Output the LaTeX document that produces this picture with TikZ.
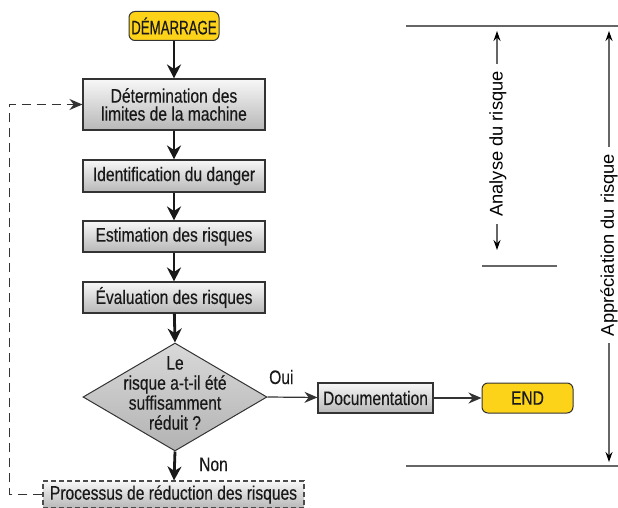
\documentclass[tikz,border=0pt]{standalone}
\usepackage{fontspec}
\setmainfont{Liberation Sans}[FakeStretch=0.80,FakeBold=0.3]
\newfontfamily\capsfont{Liberation Sans}[FakeStretch=0.68,FakeBold=0.3]
\newfontfamily\rotfont{Liberation Sans}
\usetikzlibrary{shapes.geometric,arrows.meta}
\definecolor{ylw}{HTML}{FDD319}
\definecolor{edge}{HTML}{333333}
\tikzset{
  txt/.style={font=\fontsize{19.5}{18}\selectfont, text=black!90, align=center, inner sep=0pt},
  rot/.style={font=\rotfont\fontsize{18.3}{18}\selectfont, text=black, rotate=90, inner sep=0pt, minimum height=14pt},
  box/.style={txt, draw=edge, line width=1.1pt, top color=black!3, bottom color=black!28, minimum width=182pt},
  term/.style={txt, draw=edge, line width=1pt, fill=ylw, rounded corners=6pt},
  flow/.style={line width=2.8pt, black!90, -{Stealth[length=14pt,width=14pt]}},
  thin/.style={line width=1.2pt, black!80, -{Stealth[length=13pt,width=11pt]}},
  dim/.style={line width=1.2pt, black!60, -{Stealth[length=10pt,width=7pt,color=black]}},
  rule/.style={line width=1.3pt, black!60},
}
\begin{document}
\begin{tikzpicture}[x=1pt,y=-1pt]
\useasboundingbox (0,0) rectangle (618,508);
% nodes
\node[term, minimum width=90pt, minimum height=29pt, font=\capsfont\fontsize{19.5}{18}\selectfont] (start) at (174,26) {DÉMARRAGE};
\node[box, minimum height=51pt] (b1) at (174,104.5) {Détermination des\\limites de la machine};
\node[box, minimum height=32pt] (b2) at (174,176) {Identification du danger};
\node[box, minimum height=31pt] (b3) at (174,236.5) {Estimation des risques};
\node[box, minimum height=31pt] (b4) at (174,297.5) {Évaluation des risques};
\node[draw=edge, line width=1pt, diamond, top color=black!15, bottom color=black!30, minimum width=184pt, minimum height=108pt, inner sep=0pt] (dec) at (175,397) {};
\node[txt, font=\fontsize{19.5}{20}\selectfont] (dect) at (175,393) {Le\\risque a-t-il été\\suffisamment\\réduit ?};
\node[box, draw=black!70, dashed, dash pattern=on 5pt off 3pt, minimum width=261pt, minimum height=27pt] (red) at (173.5,494.5) {Processus de réduction des risques};
\node[box, minimum width=115pt, minimum height=30pt] (doc) at (375.5,398) {Documentation};
\node[term, minimum width=91pt, minimum height=30pt] (end) at (527.5,398) {END};
\node[txt, anchor=base west] (oui) at (269,384) {Oui};
\node[txt, anchor=base west] (non) at (199,471) {Non};
% main flow
\draw[flow] (start) -- (b1);
\draw[flow] (b1) -- (b2);
\draw[flow] (b2) -- (b3);
\draw[flow] (b3) -- (b4);
\draw[flow] (b4) -- (dec.north);
\draw[flow] (dec.south) -- (red);
\draw[thin] (dec.east) -- (doc);
\draw[thin] (doc) -- (end);
% feedback
\coordinate (fb1) at (9.5,494.5);
\coordinate (fb2) at (9.5,104.5);
\draw[line width=1.4pt, black!80, dash pattern=on 9pt off 6pt, -{Stealth[length=13pt,width=11pt]}] (red.west) -- (fb1) -- (fb2) -- (b1.west);
% right side scale
\coordinate (t1) at (406,26); \coordinate (t2) at (618,26);
\coordinate (m1) at (482,266); \coordinate (m2) at (557,266);
\coordinate (u1) at (406,466); \coordinate (u2) at (618,466);
\draw[rule] (t1) -- (t2);
\draw[rule] (m1) -- (m2);
\draw[rule] (u1) -- (u2);
\node[rot, minimum width=160pt] (ana) at (498,144) {Analyse du risque};
\node[rot, minimum width=196pt] (app) at (609,245) {Appréciation du risque};
\coordinate (a1) at (497,31); \coordinate (a2) at (497,250);
\coordinate (p1) at (609,31); \coordinate (p2) at (609,462);
\draw[dim] (ana.east) ++(-1,0) -- (a1);
\draw[dim] (ana.west) ++(-1,0) -- (a2);
\draw[dim] (app.east) -- (p1);
\draw[dim] (app.west) -- (p2);
\end{tikzpicture}
\end{document}
